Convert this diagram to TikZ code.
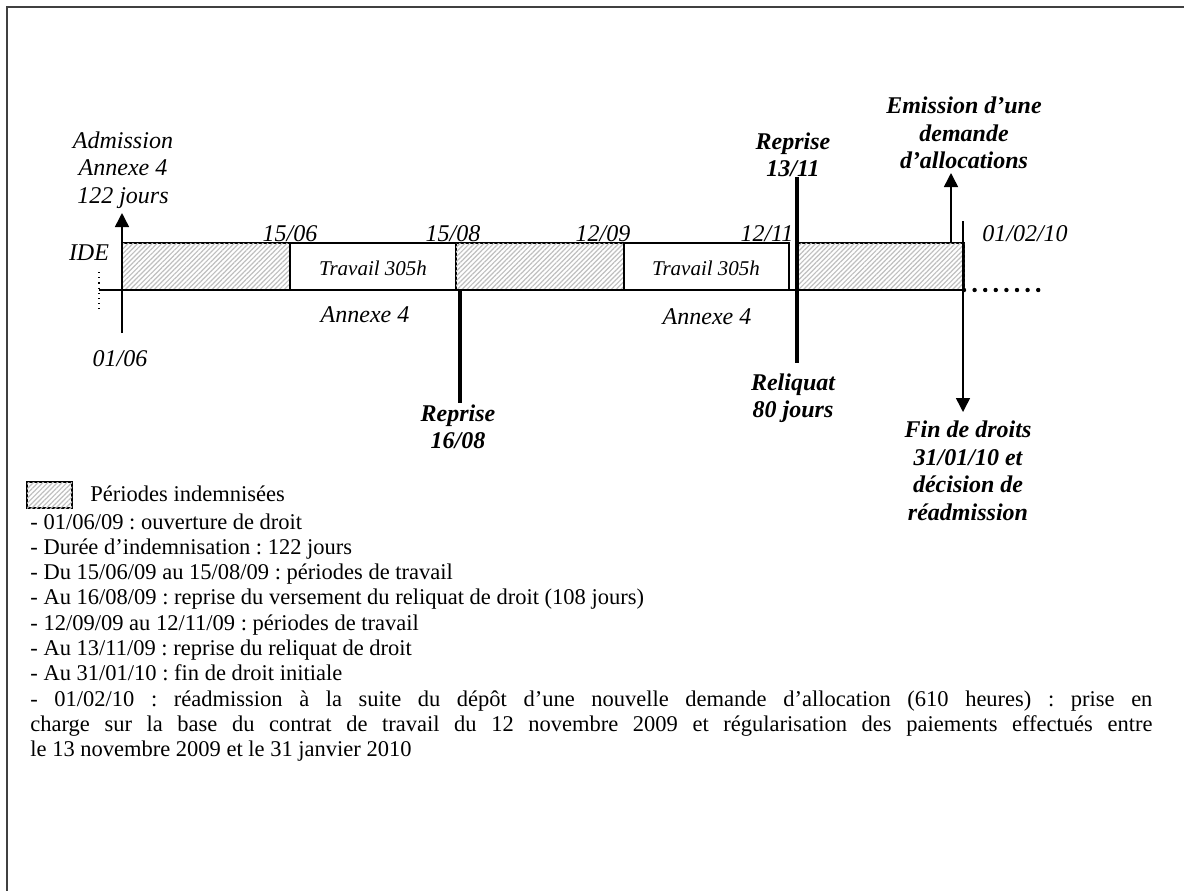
\documentclass[tikz,border=0pt]{standalone}
\usepackage{fontspec}
\setmainfont{Liberation Serif}
\usetikzlibrary{arrows.meta,patterns.meta}
\frenchspacing
\tikzset{
  lbl/.style={font=\fontsize{12}{13.75}\selectfont\itshape, inner sep=0pt, align=center},
  blbl/.style={font=\fontsize{12}{13.75}\selectfont\bfseries\itshape, inner sep=0pt, align=center},
  worklbl/.style={font=\fontsize{10.5}{12}\selectfont\itshape, inner sep=0pt},
  hatchbox/.style={draw=black, line width=1pt, fill=white,
    postaction={pattern={Lines[angle=45,distance=1.7pt,line width=0.6pt]}, pattern color=gray!50}},
  workbox/.style={draw=black, line width=1pt, fill=white},
  thinarrow/.style={line width=0.75pt, -{Triangle[width=7pt,length=7pt]}},
  marker/.style={line width=2pt},
  framecol/.style={draw=black!75, line width=1.2pt}
}
\begin{document}
\begin{tikzpicture}[x=0.5pt,y=-0.5pt]
\useasboundingbox (0,0) rectangle (1184,891);
% frame (only top and left visible)
\draw[framecol] (1184,7) -- (7,7) -- (7,891);

% boxes
\path[hatchbox] (122,243) rectangle (290,290);
\path[workbox]  (290,243) rectangle (456,290);
\path[hatchbox] (456,243) rectangle (624,290);
\path[workbox]  (624,243) rectangle (789,290);
\path[hatchbox] (798,243) rectangle (964,290);

% axis
\coordinate (axL) at (99,290);
\coordinate (axR) at (964,290);
\coordinate (axEnd) at (1048,290);
\draw[line width=1pt] (axL) -- (axR);
\draw[line width=2.2pt, line cap=round, dash pattern=on 0pt off 5.3pt] (axR) -- (axEnd);
\coordinate (ideTop) at (99,272);
\coordinate (ideBot) at (99,309);
\draw[line width=0.6pt, dotted] (ideTop) -- (ideBot);

% admission arrow
\coordinate (admBot) at (122,333);
\coordinate (admTip) at (122,213);
\draw[thinarrow] (admBot) -- (admTip);

% reprise 16/08
\coordinate (r1Top) at (460,290);
\coordinate (r1Bot) at (460,403);
\draw[marker] (r1Top) -- (r1Bot);

% reprise 13/11
\coordinate (r2Top) at (797,177);
\coordinate (r2Bot) at (797,363);
\draw[marker] (r2Top) -- (r2Bot);

% emission arrow
\coordinate (emBot) at (951,243);
\coordinate (emTip) at (951,173);
\draw[thinarrow] (emBot) -- (emTip);

% fin de droits arrow
\coordinate (finTop) at (963,221);
\coordinate (finTip) at (963,412);
\draw[thinarrow] (finTop) -- (finTip);

% labels
\node[lbl] (adm) at (123,170) {Admission\\Annexe 4\\122 jours};
\node[lbl, anchor=base] (ide) at (89,260) {IDE};
\node[lbl, anchor=base] (d0106) at (120,366) {01/06};
\node[lbl, anchor=base] (d1506) at (290,241) {15/06};
\node[lbl, anchor=base] (d1508) at (453,241) {15/08};
\node[lbl, anchor=base] (d1209) at (603,241) {12/09};
\node[lbl, anchor=base] (d1211) at (767,241) {12/11};
\node[lbl, anchor=base] (d0102) at (1025,241) {01/02/10};
\node[worklbl] (w1) at (373,268) {Travail 305h};
\node[worklbl] (w2) at (706,268) {Travail 305h};
\node[lbl, anchor=base] (ann1) at (365,322) {Annexe 4};
\node[lbl, anchor=base] (ann2) at (707,324) {Annexe 4};

\node[blbl] (rep1) at (458,427) {Reprise\\16/08};
\node[blbl] (rep2) at (793,155) {Reprise\\13/11};
\node[blbl] (reliq) at (793,398) {Reliquat\\80 jours};
\node[blbl] (emis) at (964,133) {Emission d’une\\demande\\d’allocations};
\node[blbl] (fin) at (968,471) {Fin de droits\\31/01/10 et\\décision de\\réadmission};

% legend
\path[hatchbox, line width=0.8pt] (27,482) rectangle (72,508);
\node[anchor=base west, inner sep=0pt, font=\fontsize{11.25}{12.65}\selectfont] (leg) at (90,501) {Périodes indemnisées};

% body text
\node[anchor=north west, inner sep=0pt, text width=561pt, align=justify,
      font=\fontsize{11.25}{12.65}\selectfont] (body) at (30,513) {\parindent=0pt\frenchspacing
- 01/06/09 : ouverture de droit\par
- Durée d’indemnisation : 122 jours\par
- Du 15/06/09 au 15/08/09 : périodes de travail\par
- Au 16/08/09 : reprise du versement du reliquat de droit (108 jours)\par
- 12/09/09 au 12/11/09 : périodes de travail\par
- Au 13/11/09 : reprise du reliquat de droit\par
- Au 31/01/10 : fin de droit initiale\par
- 01/02/10 : réadmission à la suite du dépôt d’une nouvelle demande d’allocation (610 heures) : prise en\linebreak
charge sur la base du contrat de travail du 12 novembre 2009 et régularisation des paiements effectués entre\linebreak
le 13 novembre 2009 et le 31 janvier 2010\par};
\end{tikzpicture}
\end{document}
